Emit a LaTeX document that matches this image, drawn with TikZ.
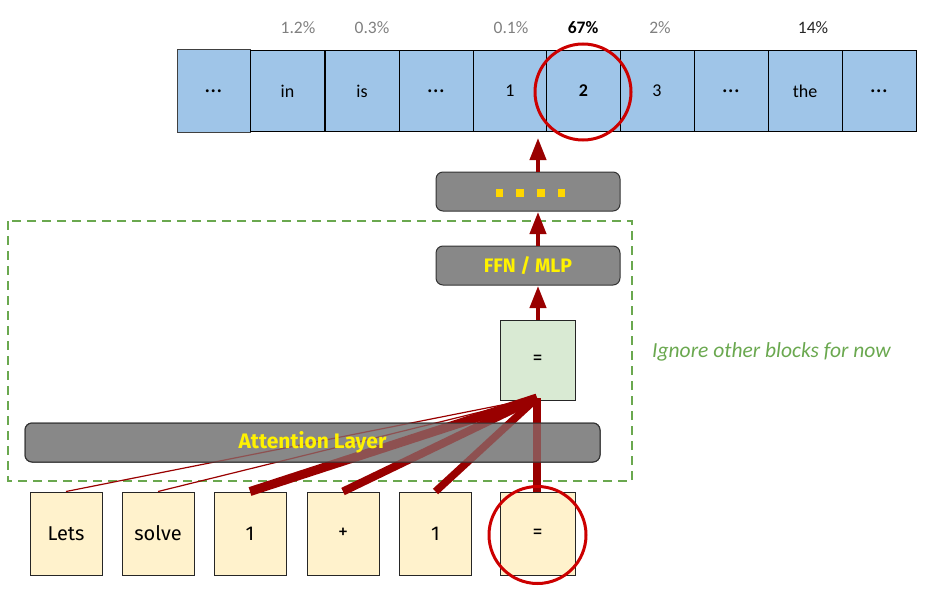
\documentclass[tikz,border=0pt]{standalone}
\usepackage{fontspec}
\setmainfont{Carlito}
\newfontfamily\fira{Fira Sans}
\usetikzlibrary{arrows.meta}
\definecolor{tokblue}{HTML}{9FC5E8}
\definecolor{tokyel}{HTML}{FFF2CC}
\definecolor{tokgrn}{HTML}{D9EAD3}
\definecolor{barg}{HTML}{888888}
\definecolor{barb}{HTML}{333333}
\definecolor{dred}{HTML}{990000}
\definecolor{cred}{HTML}{CC0000}
\definecolor{dgreen}{HTML}{6AA84F}
\definecolor{pgray}{HTML}{808080}
\definecolor{gold}{HTML}{FFD700}
\newcommand{\myellip}{{\fontsize{24}{24}\selectfont …}}
\tikzset{
  vocab/.style={draw=black, line width=1pt, fill=tokblue, minimum width=74pt, minimum height=81pt, inner sep=0pt, font=\fontsize{18}{21}\selectfont},
  pct/.style={font=\fontsize{17.5}{20}\selectfont, text=pgray, inner sep=0pt},
  tok/.style={draw=black!85, line width=1pt, fill=tokyel, minimum width=72pt, minimum height=83pt, inner sep=0pt, font=\fira\fontsize{20}{23}\selectfont},
  graybar/.style={draw=barb, line width=1pt, fill=barg, rounded corners=7pt, minimum height=39pt, inner sep=0pt, font=\fira\bfseries\fontsize{19.5}{22}\selectfont, text=yellow},
  redring/.style={draw=cred, line width=3pt, circle, minimum size=96pt, inner sep=0pt},
  upar/.style={draw=dred, line width=4pt, -{Triangle[length=22pt, width=16pt]}},
  attn/.style={draw=dred, line cap=butt},
}
\begin{document}
\begin{tikzpicture}[x=1pt,y=-1pt]
\useasboundingbox (0,0) rectangle (933,591);

% vocabulary row
\node[vocab, draw=black!75, minimum width=73pt, minimum height=82pt] (v0) at (213.5,91) {\myellip};
\node[vocab] (v1) at (287.5,91) {in};
\node[vocab] (v2) at (362,91) {is};
\node[vocab] (v3) at (436,91) {\myellip};
\node[vocab] (v4) at (510,91) {1};
\node[vocab] (v5) at (583.5,91) {\bfseries 2};
\node[vocab] (v6) at (657,91) {3};
\node[vocab] (v7) at (731,91) {\myellip};
\node[vocab] (v8) at (805,91) {the};
\node[vocab] (v9) at (879,91) {\myellip};

% percentages
\node[pct] (p1) at (298,28) {1.2\%};
\node[pct] (p2) at (372,28) {0.3\%};
\node[pct] (p4) at (511,28) {0.1\%};
\node[pct, text=black, font=\bfseries\fontsize{17.5}{20}\selectfont] (p5) at (583,28) {67\%};
\node[pct] (p6) at (660,28) {2\%};
\node[pct, text=black!85] (p8) at (813,28) {14\%};

\node[redring] (ring2) at (583,92) {};

% dashed block
\draw[dgreen, line width=2pt, dash pattern=on 9pt off 6pt] (8,221) rectangle (632,481);
\node[text=dgreen, font=\itshape\fontsize{21.5}{24}\selectfont, anchor=west, inner sep=0pt] (ignore) at (652,352) {Ignore other blocks for now};

% upper stack
\node[graybar, minimum width=184pt] (dots) at (528,191.5) {};
\foreach \i in {0,1,2,3}{
  \fill[gold] (495.5+20.7*\i,189) rectangle ++(7.7,7.7);
}
\node[graybar, minimum width=184pt] (ffn) at (528,265.5) {FFN / MLP};
\node[tok, fill=tokgrn, minimum width=75pt, minimum height=80pt] (eqg) at (537.5,360) {=};

\coordinate (tip) at (538,138);
\draw[upar] (538,320) -- (538,286);
\draw[upar] (538,246) -- (538,212);
\draw[upar] (538,172) -- (tip);

% tokens
\node[tok] (t1) at (66,533.5) {Lets};
\node[tok] (t2) at (158,533.5) {solve};
\node[tok] (t3) at (250,533.5) {1};
\node[tok] (t4) at (343,533.5) {+};
\node[tok] (t5) at (435.5,533.5) {1};
\node[tok, minimum width=75pt] (t6) at (537.5,533.5) {=};

% opaque attention bar underneath
\node[graybar, minimum width=575pt] (attnbase) at (312.5,442.5) {};

% attention connectors
\coordinate (conv) at (537,398);
\draw[attn, line width=1.2pt] (t1.north) -- (conv);
\draw[attn, line width=1.2pt] (t2.north) -- (conv);
\draw[attn, line width=9pt] (t3.north) -- (conv);
\draw[attn, line width=8pt] (t4.north) -- (conv);
\draw[attn, line width=7.5pt] (t5.north) -- (conv);
\draw[attn, line width=8.5pt] ([xshift=-0.5pt]t6.north) -- (conv);

% translucent attention bar over connectors
\node[graybar, minimum width=575pt, fill opacity=0.6, text opacity=1, font=\fira\bfseries\fontsize{21}{24}\selectfont] (attnbar) at (312.5,442.5) {Attention Layer};

\node[redring, minimum size=97pt] (ring6) at (537.5,535) {};
\end{tikzpicture}
\end{document}
